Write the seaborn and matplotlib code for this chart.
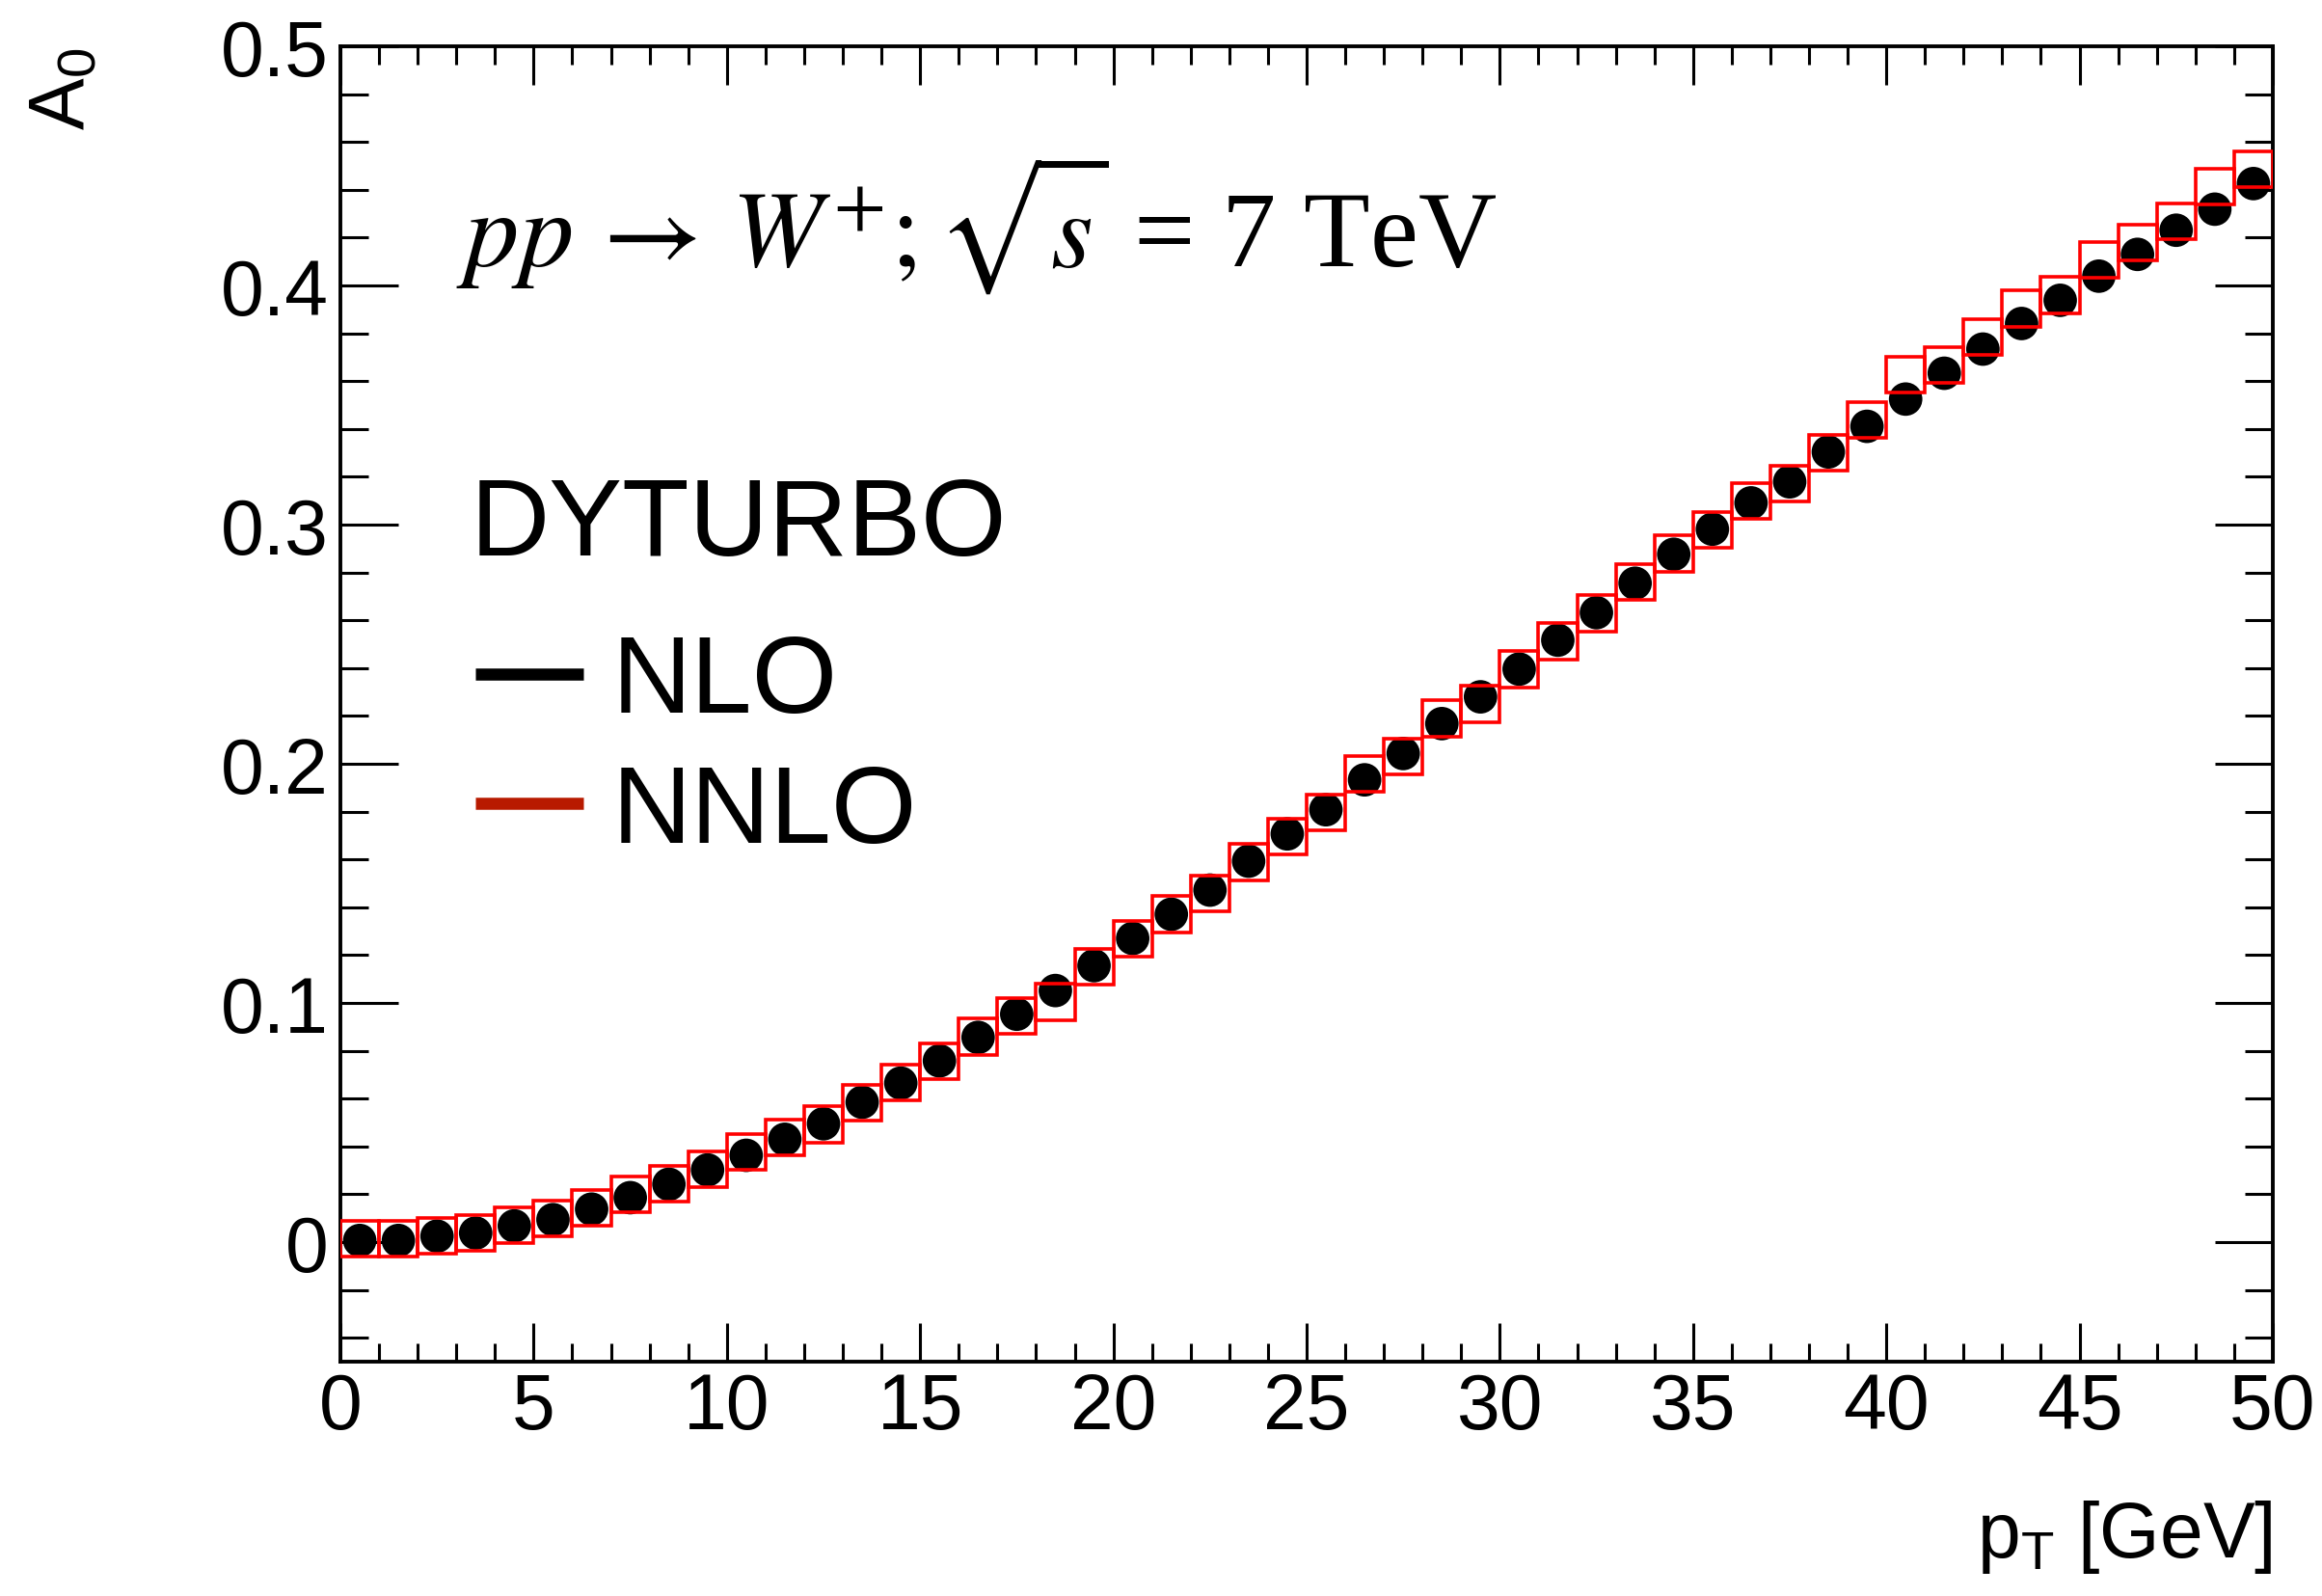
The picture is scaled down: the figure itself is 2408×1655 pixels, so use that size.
import numpy as np
import pandas as pd
import matplotlib
matplotlib.use("Agg")
import matplotlib.pyplot as plt
from matplotlib.lines import Line2D
from matplotlib.ticker import MultipleLocator, FuncFormatter
import seaborn as sns

# pT bin centres (1 GeV bins from 0 to 50 GeV)
pt_bins = np.arange(0.5, 50.0, 1.0)

# A0 angular coefficient, DYTURBO NLO
a0_nlo = [
    0.0007, 0.0007, 0.0025, 0.0038, 0.0068, 0.0094, 0.0138, 0.0186, 0.0242, 0.0302,
    0.0363, 0.0430, 0.0495, 0.0585, 0.0665, 0.0758, 0.0856, 0.0953, 0.1052, 0.1156,
    0.1270, 0.1371, 0.1472, 0.1593, 0.1707, 0.1808, 0.1933, 0.2043, 0.2168, 0.2280,
    0.2396, 0.2517, 0.2632, 0.2755, 0.2876, 0.2981, 0.3091, 0.3179, 0.3304, 0.3411,
    0.3525, 0.3633, 0.3734, 0.3841, 0.3938, 0.4039, 0.4130, 0.4231, 0.4319, 0.4426,
]

# A0 angular coefficient, DYTURBO NNLO
a0_nnlo = [
    0.0013, 0.0013, 0.0025, 0.0039, 0.0070, 0.0100, 0.0142, 0.0200, 0.0243, 0.0304,
    0.0376, 0.0437, 0.0492, 0.0582, 0.0668, 0.0755, 0.0859, 0.0946, 0.1004, 0.1151,
    0.1269, 0.1371, 0.1457, 0.1589, 0.1696, 0.1796, 0.1957, 0.2032, 0.2190, 0.2250,
    0.2395, 0.2512, 0.2629, 0.2761, 0.2879, 0.2978, 0.3099, 0.3173, 0.3302, 0.3437,
    0.3626, 0.3668, 0.3785, 0.3903, 0.3960, 0.4108, 0.4180, 0.4267, 0.4415, 0.4485,
]

bin_width = 1.0
nnlo_band_half = 0.0075

df = pd.DataFrame({"pt": pt_bins, "nlo": a0_nlo, "nnlo": a0_nnlo})

sns.set_style("ticks")
plt.rcParams["font.family"] = ["Liberation Sans", "DejaVu Sans"]
plt.rcParams["mathtext.fontset"] = "custom"
plt.rcParams["mathtext.rm"] = "Liberation Sans"
plt.rcParams["mathtext.it"] = "Liberation Sans:italic"
for key in ("text.color", "axes.labelcolor", "xtick.color", "ytick.color",
            "axes.edgecolor"):
    plt.rcParams[key] = "black"

fig = plt.figure(figsize=(24.08, 16.56), dpi=100)
ax = fig.add_axes([0.1466, 0.1467, 0.8322, 0.8237])

# NLO: filled black markers
sns.scatterplot(data=df, x="pt", y="nlo", ax=ax, marker="o", s=25 ** 2,
                color="black", edgecolor="none", linewidth=0, zorder=3,
                legend=False)

# NNLO: open red boxes spanning each bin
ax.bar(df["pt"], 2 * nnlo_band_half, bottom=df["nnlo"] - nnlo_band_half,
       width=bin_width, fill=False, edgecolor="#ff0000", linewidth=2.6,
       zorder=4)

ax.set_xlim(0, 50)
ax.set_ylim(-0.05, 0.5)
ax.xaxis.set_major_locator(MultipleLocator(5))
ax.xaxis.set_minor_locator(MultipleLocator(1))
ax.yaxis.set_major_locator(MultipleLocator(0.1))
ax.yaxis.set_minor_locator(MultipleLocator(0.02))
ax.yaxis.set_major_formatter(FuncFormatter(lambda v, _: "0" if abs(v) < 1e-9 else f"{v:.1f}"))
ax.xaxis.set_major_formatter(FuncFormatter(lambda v, _: f"{v:.0f}"))

for s in ax.spines.values():
    s.set_linewidth(2.8)
    s.set_color("black")
    s.set_visible(True)

ax.tick_params(axis="both", which="both", direction="in", top=True, right=True,
               width=2.2, color="black", labelcolor="black")
ax.tick_params(axis="x", which="major", length=29, labelsize=58, pad=7)
ax.tick_params(axis="x", which="minor", length=14)
ax.tick_params(axis="y", which="major", length=43, labelsize=58, pad=9)
ax.tick_params(axis="y", which="minor", length=21)

ax.set_xlabel(r"p$_\mathregular{T}$ [GeV]", fontsize=58, loc="right", labelpad=40)
ax.set_ylabel(r"A$_\mathregular{0}$", fontsize=58, loc="top")
ax.yaxis.set_label_coords(-0.124, 1.0)

ax.text(0.060, 0.833, r"$pp\,\rightarrow\,W^{+};\sqrt{s}$ = 7 TeV",
        transform=ax.transAxes, fontsize=81, ha="left", va="baseline",
        family=["Liberation Serif", "DejaVu Serif"], math_fontfamily="stix")

ax.text(0.067, 0.614, "DYTURBO", transform=ax.transAxes, fontsize=82,
        ha="left", va="baseline")

handles = [Line2D([], [], color="black", lw=9, solid_capstyle="butt"),
           Line2D([], [], color="#b81a00", lw=9, solid_capstyle="butt")]
ax.legend(handles, ["NLO", "NNLO"], loc="upper left", bbox_to_anchor=(0.0699, 0.554),
          frameon=False, fontsize=82, handlelength=0.98, handletextpad=0.26,
          labelspacing=0.25, borderpad=0, borderaxespad=0)

fig.savefig("out.png", dpi=100, facecolor="white")
